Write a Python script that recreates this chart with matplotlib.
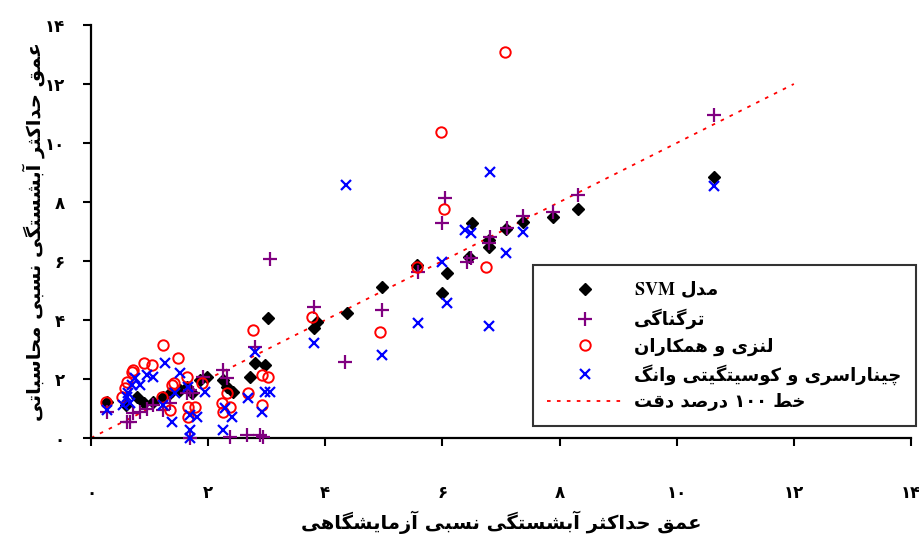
import matplotlib
matplotlib.use("Agg")
import matplotlib.pyplot as plt

# ---- Persian shaping (matplotlib has no bidi / joining) ----
# letter: (isolated, final, initial, medial) ; None for right-joining letters
FORMS = {
    'ا': ('\uFE8D', '\uFE8E', None, None),
    'آ': ('\uFE81', '\uFE82', None, None),
    'ب': ('\uFE8F', '\uFE90', '\uFE91', '\uFE92'),
    'پ': ('\uFB56', '\uFB57', '\uFB58', '\uFB59'),
    'ت': ('\uFE95', '\uFE96', '\uFE97', '\uFE98'),
    'ث': ('\uFE99', '\uFE9A', '\uFE9B', '\uFE9C'),
    'ج': ('\uFE9D', '\uFE9E', '\uFE9F', '\uFEA0'),
    'چ': ('\uFB7A', '\uFB7B', '\uFB7C', '\uFB7D'),
    'ح': ('\uFEA1', '\uFEA2', '\uFEA3', '\uFEA4'),
    'خ': ('\uFEA5', '\uFEA6', '\uFEA7', '\uFEA8'),
    'د': ('\uFEA9', '\uFEAA', None, None),
    'ذ': ('\uFEAB', '\uFEAC', None, None),
    'ر': ('\uFEAD', '\uFEAE', None, None),
    'ز': ('\uFEAF', '\uFEB0', None, None),
    'ژ': ('\uFB8A', '\uFB8B', None, None),
    'س': ('\uFEB1', '\uFEB2', '\uFEB3', '\uFEB4'),
    'ش': ('\uFEB5', '\uFEB6', '\uFEB7', '\uFEB8'),
    'ص': ('\uFEB9', '\uFEBA', '\uFEBB', '\uFEBC'),
    'ط': ('\uFEC1', '\uFEC2', '\uFEC3', '\uFEC4'),
    'ع': ('\uFEC9', '\uFECA', '\uFECB', '\uFECC'),
    'ق': ('\uFED5', '\uFED6', '\uFED7', '\uFED8'),
    'ک': ('\uFB8E', '\uFB8F', '\uFB90', '\uFB91'),
    'گ': ('\uFB92', '\uFB93', '\uFB94', '\uFB95'),
    'ل': ('\uFEDD', '\uFEDE', '\uFEDF', '\uFEE0'),
    'م': ('\uFEE1', '\uFEE2', '\uFEE3', '\uFEE4'),
    'ن': ('\uFEE5', '\uFEE6', '\uFEE7', '\uFEE8'),
    'و': ('\uFEED', '\uFEEE', None, None),
    'ه': ('\uFEE9', '\uFEEA', '\uFEEB', '\uFEEC'),
    'ی': ('\uFBFC', '\uFBFD', '\uFBFE', '\uFBFF'),
}


def shape_word(w):
    out = []
    for i, ch in enumerate(w):
        if ch not in FORMS:
            out.append(ch)
            continue
        f = FORMS[ch]
        prev_j = i > 0 and w[i - 1] in FORMS and FORMS[w[i - 1]][2] is not None
        next_j = i < len(w) - 1 and w[i + 1] in FORMS
        if f[2] is None:
            out.append(f[1] if prev_j else f[0])
        elif prev_j and next_j:
            out.append(f[3])
        elif prev_j:
            out.append(f[1])
        elif next_j:
            out.append(f[2])
        else:
            out.append(f[0])
    return ''.join(reversed(out))


def fa(text):
    words = []
    for w in text.split(' '):
        if any(c in FORMS for c in w):
            words.append(shape_word(w))
        else:
            words.append(w)
    return ' '.join(reversed(words))


def fa_num(v):
    return ''.join(chr(0x06F0 + int(d)) for d in str(int(v)))


# ---- data ----
svm_x = [0.27, 0.6, 0.78, 0.9, 1.06, 1.23, 1.35, 1.52, 1.64, 1.72, 1.86, 1.98,
         2.26, 2.32, 2.43, 2.72, 2.8, 2.97, 3.03,
         3.8, 3.86, 4.37, 4.97, 5.57, 6.07, 6.0,
         6.51, 6.45, 6.79, 6.79, 7.09, 7.37, 7.88, 8.32, 10.63]
svm_y = [1.22, 1.12, 1.39, 1.18, 1.22, 1.39, 1.52, 1.63, 1.73, 1.52, 1.97, 2.07,
         1.97, 1.73, 1.56, 2.07, 2.54, 2.47, 4.07,
         3.73, 3.93, 4.24, 5.12, 5.86, 5.59, 4.92,
         7.29, 6.14, 6.71, 6.47, 7.10, 7.32, 7.49, 7.76, 8.85]

trag_x = [0.27, 0.62, 0.67, 0.72, 0.84, 0.96, 1.06, 1.23, 1.35, 1.64, 1.69, 1.74,
          1.92, 1.69, 2.26, 2.32, 2.38, 2.67, 2.89, 2.94, 2.8, 3.06,
          3.8, 4.34, 4.97, 5.59, 6.05, 6.0,
          6.42, 6.48, 6.79, 6.82, 7.11, 7.37, 7.88, 8.32, 10.63]
trag_y = [0.88, 0.54, 0.54, 0.85, 0.88, 1.0, 1.12, 0.95, 1.19, 1.53, 1.63, 1.53,
          2.07, 0.0, 2.3, 2.03, 0.03, 0.1, 0.1, 0.03, 3.08, 6.07,
          4.44, 2.58, 4.34, 5.63, 8.14, 7.29,
          5.95, 6.1, 6.61, 6.81, 7.12, 7.53, 7.66, 8.24, 10.95]

lenzi_x = [0.26, 0.53, 0.58, 0.61, 0.7, 0.72, 0.9, 1.04, 1.23, 1.21, 1.35, 1.38,
           1.41, 1.49, 1.64, 1.66, 1.66, 1.78, 1.9, 2.24, 2.26, 2.32, 2.38,
           2.68, 2.77, 2.92, 2.92, 3.03,
           3.78, 4.94, 5.56, 6.03, 6.75, 7.06, 5.97]
lenzi_y = [1.22, 1.39, 1.69, 1.9, 2.24, 2.3, 2.54, 2.47, 3.15, 1.39, 0.95, 1.8,
           1.86, 2.71, 2.07, 1.05, 0.71, 1.05, 1.86, 1.19, 0.88, 1.53, 1.05,
           1.53, 3.66, 1.12, 2.14, 2.07,
           4.1, 3.59, 5.8, 7.76, 5.8, 13.08, 10.37]

chin_x = [0.27, 0.55, 0.61, 0.63, 0.67, 0.7, 0.75, 0.84, 0.96, 1.06, 1.26, 1.23,
          1.38, 1.44, 1.52, 1.66, 1.69, 1.69, 1.69, 1.81, 1.95, 2.26, 2.29,
          2.41, 2.68, 2.8, 2.92, 2.97, 3.06,
          3.8, 4.36, 4.97, 5.59, 6.0, 6.07,
          6.82, 6.39, 6.48, 7.09, 7.37, 6.79, 10.63]
chin_y = [0.95, 1.12, 1.39, 1.53, 1.19, 1.8, 2.03, 1.8, 2.14, 2.07, 2.54, 1.12,
          0.54, 1.53, 2.2, 1.73, 0.78, 0.27, 0.0, 0.71, 1.56, 0.27, 1.02,
          0.71, 1.36, 2.92, 0.88, 1.56, 1.56,
          3.22, 8.58, 2.81, 3.9, 5.97, 4.58,
          9.02, 7.05, 6.95, 6.27, 6.98, 3.8, 8.54]

line_x = [0, 12]
line_y = [0, 12]

ticks = [0, 2, 4, 6, 8, 10, 12, 14]

lbl_svm = fa('مدل')
lbl_trag = fa('ترگناگی')
lbl_lenzi = fa('لنزی و همکاران')
lbl_chin = fa('چیناراسری و کوسیتگیتی وانگ')
lbl_line = fa('خط ۱۰۰ درصد دقت')
xlabel = fa('عمق حداکثر آبشستگی نسبی آزمایشگاهی')
ylabel = fa('عمق حداکثر آبشستگی نسبی محاسباتی')

# ---- plot ----
plt.rcParams['font.family'] = ['DejaVu Sans']
plt.rcParams['mathtext.fontset'] = 'stix'

fig = plt.figure(figsize=(9.2, 5.35), dpi=100)
ax = fig.add_axes([91 / 920, 97 / 535, 820 / 920, 413 / 535])

ax.plot(line_x, line_y, color='red', linestyle=(0, (2, 3.5)), linewidth=1.3,
        zorder=1, label=lbl_line)
ax.plot(svm_x, svm_y, linestyle='none', marker='D', markersize=6.5,
        color='black', zorder=2, clip_on=False,
        label=r'$\mathbf{SVM}$ ' + lbl_svm)
ax.plot(trag_x, trag_y, linestyle='none', marker='+', markersize=10,
        markeredgewidth=1.6, color='#800080', zorder=3, clip_on=False,
        label=lbl_trag)
ax.plot(lenzi_x, lenzi_y, linestyle='none', marker='o', markersize=7.5,
        markerfacecolor='none', markeredgecolor='red', markeredgewidth=1.4,
        zorder=4, clip_on=False, label=lbl_lenzi)
ax.plot(chin_x, chin_y, linestyle='none', marker='x', markersize=6.5,
        markeredgewidth=1.6, color='blue', zorder=5, clip_on=False,
        label=lbl_chin)

ax.set_xlim(0, 14)
ax.set_ylim(0, 14)
ax.set_xticks(ticks)
ax.set_yticks(ticks)
ax.set_xticklabels([fa_num(t) for t in ticks], fontsize=12, fontweight='bold')
ax.set_yticklabels([fa_num(t) for t in ticks], fontsize=12, fontweight='bold')
ax.tick_params(axis='x', direction='out', length=6, width=1.5, pad=27)
ax.tick_params(axis='y', direction='out', length=6, width=1.5, pad=13)

for s in ['top', 'right']:
    ax.spines[s].set_visible(False)
for s in ['left', 'bottom']:
    ax.spines[s].set_linewidth(1.6)

ax.set_xlabel(xlabel, fontsize=14, fontweight='bold', labelpad=6)
ax.set_ylabel(ylabel, fontsize=14, fontweight='bold')
ax.yaxis.set_label_coords(-0.056, 0.5)

h, l = ax.get_legend_handles_labels()
order = [1, 2, 3, 4, 0]
leg = fig.legend([h[i] for i in order], [l[i] for i in order],
                 loc='upper left', bbox_to_anchor=(533 / 920, 1 - 265 / 535),
                 prop={'size': 13, 'weight': 'bold'}, frameon=True,
                 fancybox=False, handlelength=4.2, handletextpad=0.6,
                 labelspacing=0.46, borderpad=0.8, borderaxespad=0)
leg.get_frame().set_edgecolor('black')
leg.get_frame().set_linewidth(1.5)

fig.savefig('out.png', dpi=100)
